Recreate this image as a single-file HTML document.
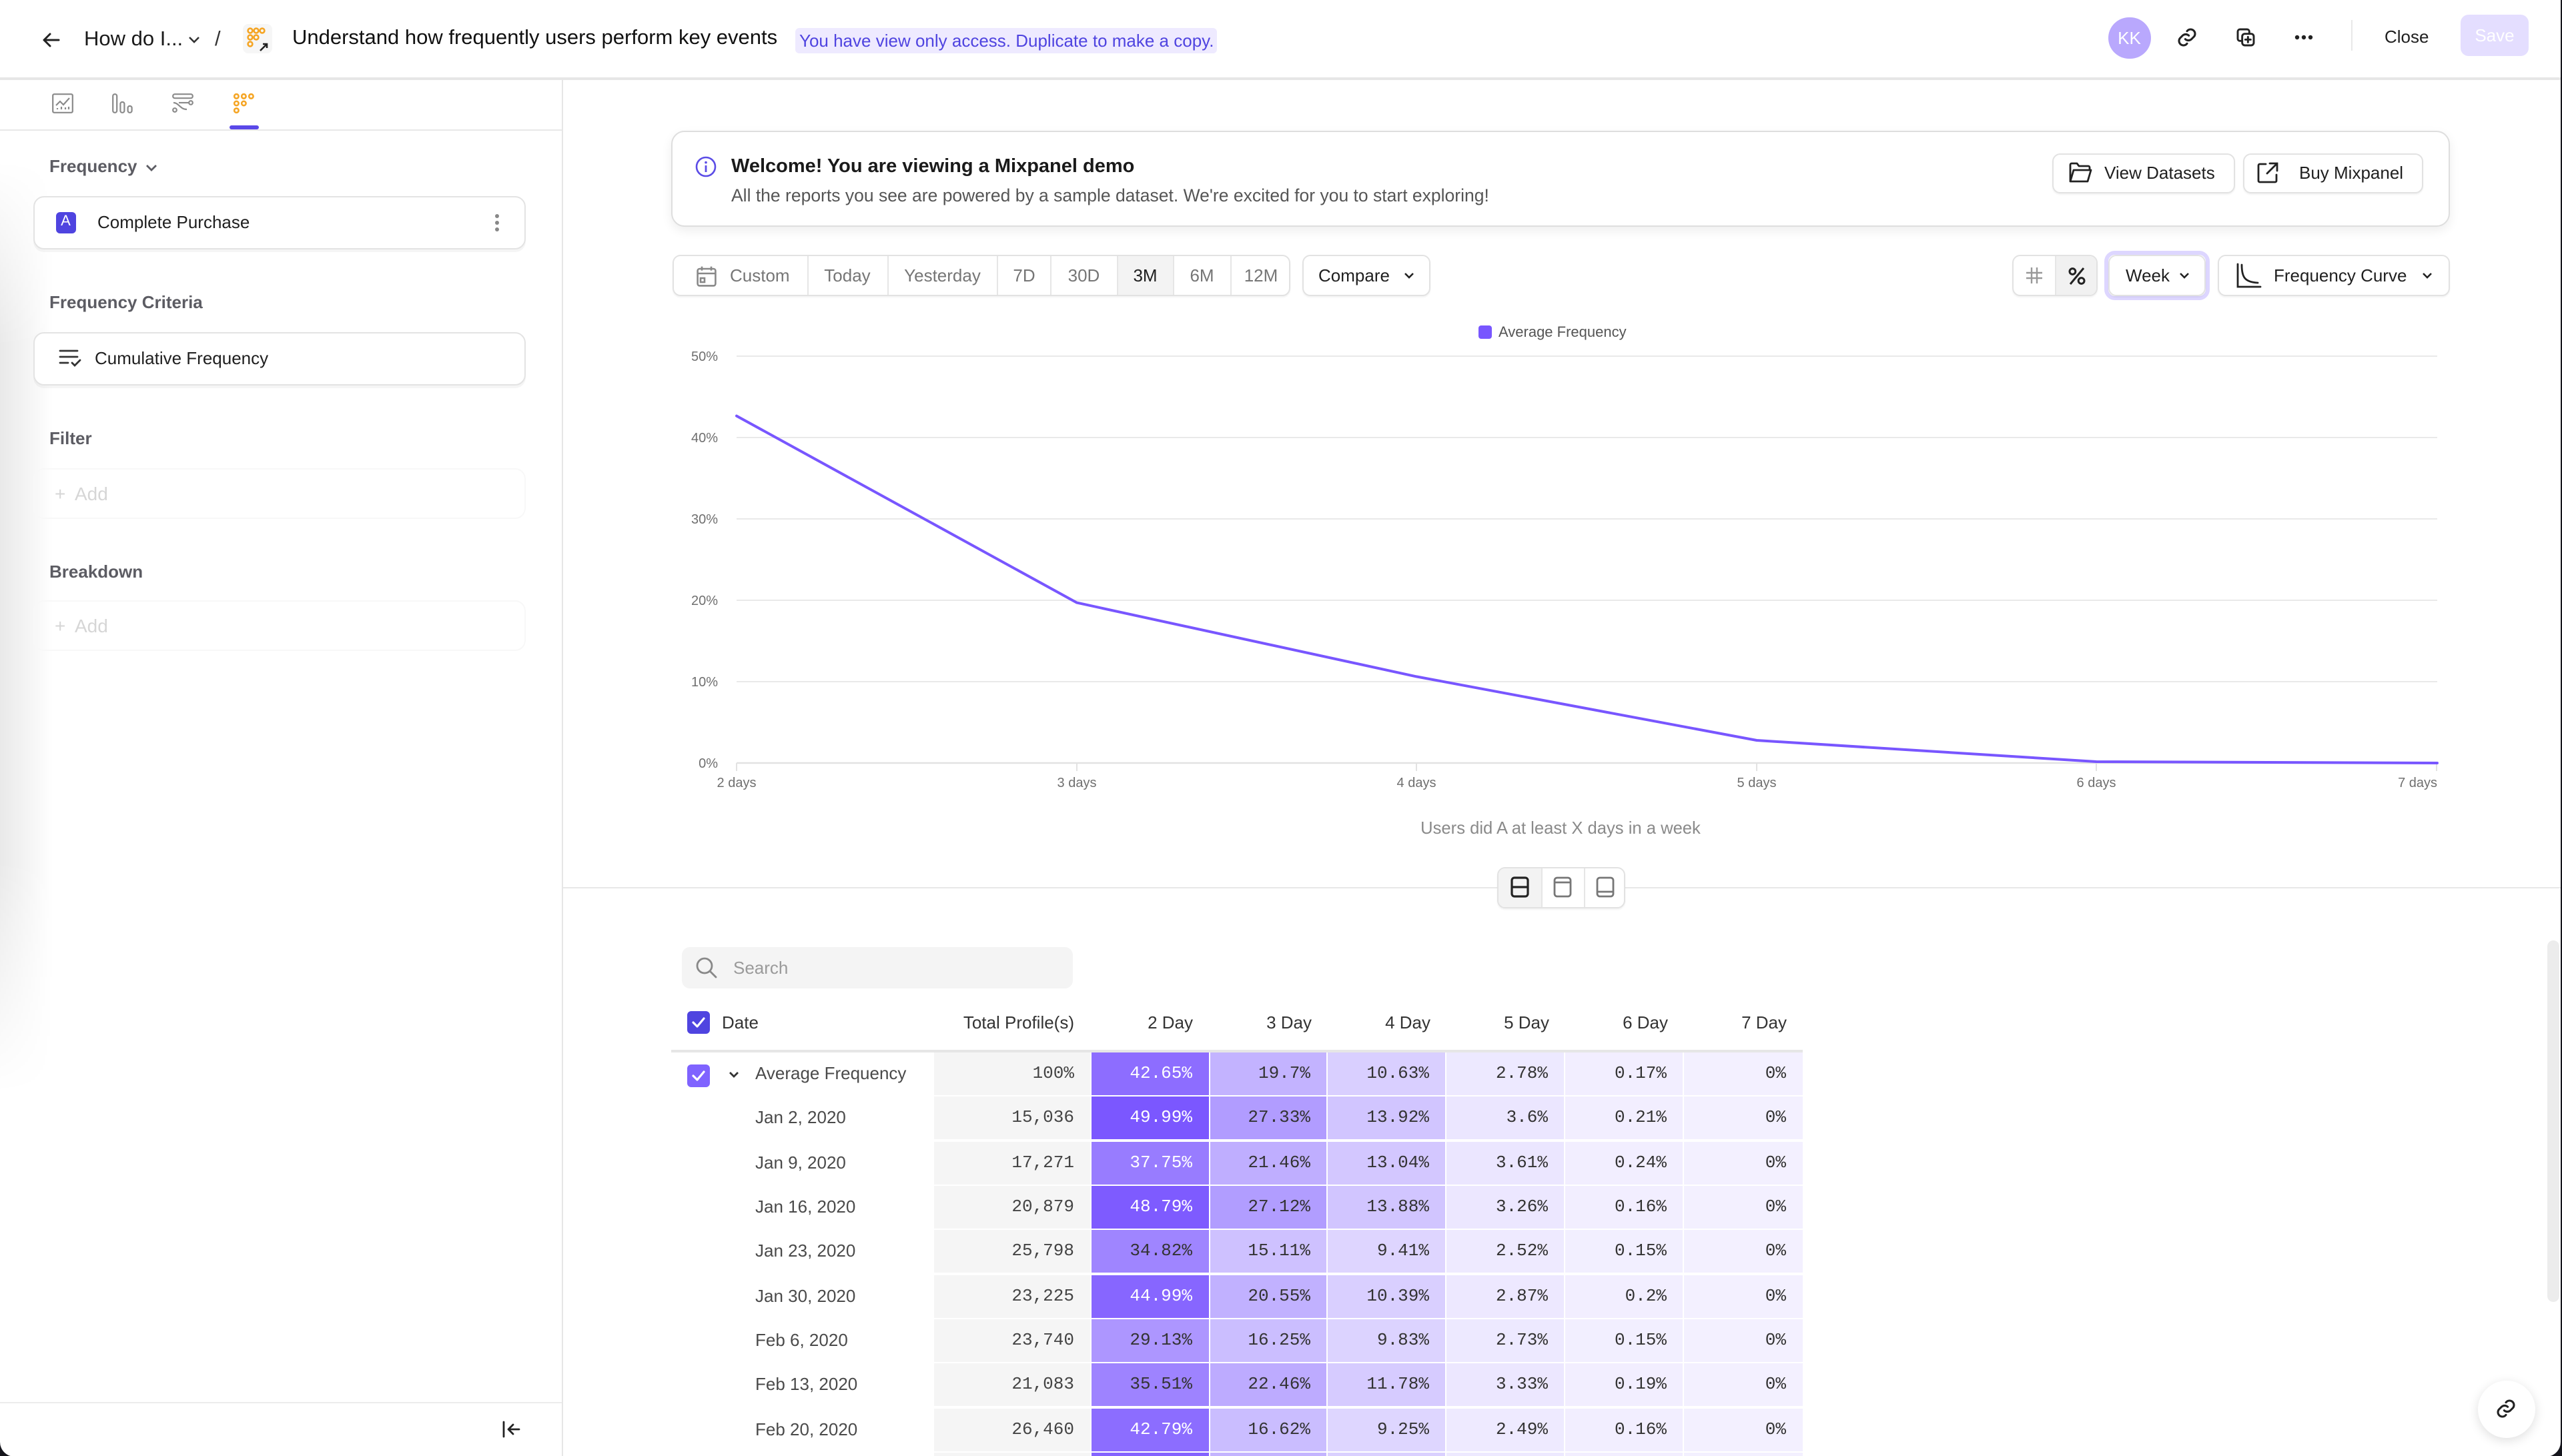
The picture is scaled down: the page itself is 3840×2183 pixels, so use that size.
<!DOCTYPE html>
<html><head><meta charset="utf-8"><title>Frequency report</title>
<style>
html,body{margin:0;padding:0}
body{width:3840px;height:2183px;overflow:hidden;position:relative;background:#15151c}
.page{position:absolute;left:0;top:0;width:1918.5px;height:1091.5px;background:#fff;transform:scale(2);transform-origin:0 0;border-radius:0 0 11px 11px;overflow:hidden;font-family:"Liberation Sans",Arial,sans-serif;color:#1f1f1f}
.a{position:absolute;white-space:nowrap}
.btn{position:absolute;box-sizing:border-box;border:1px solid #e2e2e2;border-radius:6px;background:#fff;box-shadow:0 1px 1px rgba(0,0,0,.05)}
.lbl{position:absolute;left:37px;font-size:13px;font-weight:bold;color:#5c5c63;line-height:16px;white-space:nowrap}
.card{position:absolute;left:25px;width:369px;height:40px;box-sizing:border-box;border:1px solid #e3e3e3;border-radius:8px;background:#fff;box-shadow:0 2px 0 rgba(0,0,0,.04)}
.addrow{position:absolute;left:25px;width:369px;height:38px;box-sizing:border-box;border:1px solid #f8f8f8;border-radius:8px}
.addrow span{position:absolute;top:0;line-height:36px;color:#d6d6d6;font-size:14px}
.seg{position:absolute;top:0;height:29px;line-height:29px;text-align:center;font-size:13px;color:#767676;border-left:1px solid #e6e6e6;box-sizing:border-box}
.row{position:absolute;left:0;width:1400px;height:32px}
.c{position:absolute;top:0;height:32px;line-height:32px;text-align:right;padding-right:12px;box-sizing:border-box;font-family:"Liberation Mono",monospace;font-size:13px;color:#333}
.c0{left:700px;width:117px;background:#f5f5f5;color:#444}
.c1{left:818px;width:87.5px}
.c2{left:906.5px;width:87.5px}
.c3{left:995px;width:88px}
.c4{left:1084px;width:88px}
.c5{left:1173px;width:88px}
.c6{left:1262px;width:88.5px}
.d{position:absolute;left:566px;top:0;line-height:32px;font-size:13px;color:#4a4a4a;white-space:nowrap}
.w{color:#fff}
.th{position:absolute;top:755px;width:100px;height:24px;line-height:24px;font-size:13px;color:#333;text-align:right;white-space:nowrap}
</style></head>
<body>
<div class="page">

<!-- ===== TOP BAR ===== -->
<div class="a" style="left:0;top:58px;width:1920px;height:1.5px;background:#e6e6e6"></div>
<svg class="a" style="left:31px;top:23px" width="14" height="14" viewBox="0 0 14 14"><path d="M13 7H2M6.5 2.5L2 7l4.5 4.5" fill="none" stroke="#222" stroke-width="1.5" stroke-linecap="round" stroke-linejoin="round"/></svg>
<div class="a" style="left:63px;top:20px;font-size:15.5px;line-height:20px;color:#1a1a1a">How do I...</div>
<svg class="a" style="left:141px;top:27px" width="9" height="6" viewBox="0 0 9 6"><path d="M1 1l3.5 3.5L8 1" fill="none" stroke="#333" stroke-width="1.3"/></svg>
<div class="a" style="left:161px;top:20px;font-size:15.5px;line-height:20px;color:#333">/</div>
<svg class="a" style="left:182px;top:18px" width="22" height="22" viewBox="0 0 22 22">
<rect width="22" height="22" rx="4" fill="#f6f6f6"/>
<g fill="none" stroke="#f5a524" stroke-width="1.3">
<circle cx="5.5" cy="5" r="1.7"/><circle cx="10" cy="5" r="1.7"/><circle cx="14.5" cy="5" r="1.7"/>
<circle cx="5.5" cy="10" r="1.7"/><circle cx="10" cy="10" r="1.7"/>
<circle cx="5.5" cy="15" r="1.7"/></g>
<path d="M13 20l5-5M15 15h3v3" stroke="#222" stroke-width="1.3" fill="none"/>
</svg>
<div class="a" style="left:219px;top:19px;font-size:15.5px;line-height:20px;color:#111">Understand how frequently users perform key events</div>
<div class="a" style="left:596px;top:20.5px;width:316px;height:19px;background:#eeeaff;border-radius:3px"></div>
<div class="a" style="left:599px;top:20.5px;font-size:13px;line-height:19px;color:#4f44e0">You have view only access. Duplicate to make a copy.</div>

<div class="a" style="left:1580px;top:12.5px;width:31.5px;height:31.5px;border-radius:50%;background:#b9a8fd;color:#fff;font-size:13px;line-height:31.5px;text-align:center">KK</div>
<svg class="a" style="left:1631px;top:20px" width="16" height="16" viewBox="0 0 24 24"><path d="M10 14a5 5 0 0 0 7 0l3-3a5 5 0 0 0-7-7l-1 1M14 10a5 5 0 0 0-7 0l-3 3a5 5 0 0 0 7 7l1-1" fill="none" stroke="#222" stroke-width="2.3" stroke-linecap="round"/></svg>
<svg class="a" style="left:1675px;top:20px" width="16" height="16" viewBox="0 0 24 24"><g fill="none" stroke="#222" stroke-width="2.2" stroke-linecap="round"><rect x="8" y="8" width="13" height="13" rx="3"/><path d="M16 8V5.5A2.5 2.5 0 0 0 13.5 3h-8A2.5 2.5 0 0 0 3 5.5v8A2.5 2.5 0 0 0 5.5 16H8M14.5 11.5v6M11.5 14.5h6"/></g></svg>
<svg class="a" style="left:1719px;top:25px" width="15" height="6" viewBox="0 0 15 6"><circle cx="2.5" cy="3" r="1.6" fill="#222"/><circle cx="7.5" cy="3" r="1.6" fill="#222"/><circle cx="12.5" cy="3" r="1.6" fill="#222"/></svg>
<div class="a" style="left:1762px;top:15px;width:1px;height:23px;background:#e8e8e8"></div>
<div class="a" style="left:1787px;top:18px;font-size:13px;line-height:20px;color:#1f1f1f">Close</div>
<div class="a" style="left:1844px;top:11px;width:51px;height:31px;border-radius:6px;background:#e4deff;color:#fff;font-size:13px;line-height:31px;text-align:center">Save</div>

<!-- ===== LEFT PANEL ===== -->
<div class="a" style="left:421px;top:59px;width:1px;height:1040px;background:#e6e6e6"></div>
<div class="a" style="left:0;top:120px;width:40px;height:700px;background:linear-gradient(to right,rgba(0,0,0,.085),rgba(0,0,0,0));-webkit-mask-image:linear-gradient(to bottom,transparent,#000 20%,#000 75%,transparent)"></div>
<div class="a" style="left:0;top:96.5px;width:421px;height:1px;background:#e8e8e8"></div>
<!-- tab icons -->
<svg class="a" style="left:39px;top:70px" width="16" height="15" viewBox="0 0 16 15"><g fill="none" stroke="#8a8a8a" stroke-width="1.1"><rect x="0.6" y="0.6" width="14.8" height="13.8" rx="1"/><path d="M3 9l3-3 2.5 2.5L13 3.5"/><path d="M4 12v-1M7 12v-2M10 12v-1.5M12.5 12v-2"/></g></svg>
<svg class="a" style="left:84px;top:70px" width="16" height="15" viewBox="0 0 16 15"><g fill="none" stroke="#8a8a8a" stroke-width="1.1"><rect x="0.6" y="0.6" width="3" height="13.8" rx="1.4"/><rect x="6.2" y="6.5" width="3" height="7.9" rx="1.4"/><rect x="11.8" y="9.5" width="3" height="4.9" rx="1.4"/></g></svg>
<svg class="a" style="left:129px;top:70px" width="16" height="15" viewBox="0 0 16 15"><g fill="none" stroke="#8a8a8a" stroke-width="1.1"><rect x="0.6" y="0.6" width="14.8" height="3" rx="1.4"/><path d="M1 7c4 0 5 5 10 5"/><path d="M5 7h8"/><circle cx="2" cy="12.5" r="1.4"/><circle cx="14" cy="7" r="1.4"/></g></svg>
<svg class="a" style="left:175px;top:70px" width="16" height="15" viewBox="0 0 16 15"><g fill="none" stroke="#f5a524" stroke-width="1.3"><circle cx="2.2" cy="2.2" r="1.6"/><circle cx="7.7" cy="2.2" r="1.6"/><circle cx="13.2" cy="2.2" r="1.6"/><circle cx="2.2" cy="7.5" r="1.6"/><circle cx="7.7" cy="7.5" r="1.6"/><circle cx="2.2" cy="12.8" r="1.6"/></g></svg>
<div class="a" style="left:172px;top:94px;width:21.5px;height:2.5px;border-radius:2px;background:#5a48e8"></div>

<div class="lbl" style="top:117px">Frequency</div>
<svg class="a" style="left:109px;top:122.5px" width="9" height="6" viewBox="0 0 9 6"><path d="M1 1l3.5 3.5L8 1" fill="none" stroke="#5c5c63" stroke-width="1.4"/></svg>
<div class="card" style="top:147px">
  <div class="a" style="left:15.5px;top:11px;width:15.5px;height:15.5px;border-radius:3px;background:#4f44e0;color:#fff;font-size:11px;line-height:15.5px;text-align:center">A</div>
  <div class="a" style="left:47px;top:0;line-height:38px;font-size:13px;color:#1f1f1f">Complete Purchase</div>
  <svg class="a" style="left:344px;top:12px" width="5" height="14" viewBox="0 0 5 14"><circle cx="2.5" cy="2" r="1.5" fill="#888"/><circle cx="2.5" cy="7" r="1.5" fill="#888"/><circle cx="2.5" cy="12" r="1.5" fill="#888"/></svg>
</div>
<div class="lbl" style="top:219px">Frequency Criteria</div>
<div class="card" style="top:249px">
  <svg class="a" style="left:18px;top:11px" width="17" height="15" viewBox="0 0 17 15"><g fill="none" stroke="#333" stroke-width="1.4" stroke-linecap="round"><path d="M1 2h13M1 6.5h13M1 11h6M10 11l2 2 4-4"/></g></svg>
  <div class="a" style="left:45px;top:0;line-height:38px;font-size:13px;color:#1f1f1f">Cumulative Frequency</div>
</div>
<div class="lbl" style="top:320.5px">Filter</div>
<div class="addrow" style="top:351px"><span style="left:15px">+</span><span style="left:30px">Add</span></div>
<div class="lbl" style="top:420.5px">Breakdown</div>
<div class="addrow" style="top:450px"><span style="left:15px">+</span><span style="left:30px">Add</span></div>

<div class="a" style="left:0;top:1051px;width:421px;height:1px;background:#ececec"></div>
<svg class="a" style="left:376px;top:1065px" width="14" height="13" viewBox="0 0 14 13"><g fill="none" stroke="#222" stroke-width="1.4" stroke-linecap="round" stroke-linejoin="round"><path d="M1.5 1v11M13 6.5H5M8.5 3L5 6.5 8.5 10"/></g></svg>

<!-- ===== BANNER ===== -->
<div class="a" style="left:503px;top:98px;width:1333px;height:72px;box-sizing:border-box;border:1px solid #dedede;border-radius:10px;background:#fff;box-shadow:0 3px 8px rgba(0,0,0,.07)"></div>
<svg class="a" style="left:521px;top:117px" width="16" height="16" viewBox="0 0 16 16"><circle cx="8" cy="8" r="7" fill="none" stroke="#5b4ce6" stroke-width="1.3"/><circle cx="8" cy="4.8" r="0.9" fill="#5b4ce6"/><path d="M8 7v5" stroke="#5b4ce6" stroke-width="1.4"/></svg>
<div class="a" style="left:548px;top:116px;font-size:14.5px;font-weight:bold;line-height:18px;color:#1a1a1a">Welcome! You are viewing a Mixpanel demo</div>
<div class="a" style="left:548px;top:138.5px;font-size:13.25px;line-height:16px;color:#555">All the reports you see are powered by a sample dataset. We're excited for you to start exploring!</div>
<div class="btn" style="left:1537.5px;top:115px;width:137.5px;height:30px"></div>
<svg class="a" style="left:1550px;top:121px" width="18" height="17" viewBox="0 0 18 17"><path d="M1.5 15V2.5A1 1 0 0 1 2.5 1.5h4l1.5 2h7a1 1 0 0 1 1 1V6M1.5 15l2.5-8.5h13L14.5 15z" fill="none" stroke="#222" stroke-width="1.4" stroke-linejoin="round"/></svg>
<div class="a" style="left:1577px;top:115px;line-height:30px;font-size:13px;color:#1f1f1f">View Datasets</div>
<div class="btn" style="left:1681px;top:115px;width:134.5px;height:30px"></div>
<svg class="a" style="left:1691px;top:121px" width="17" height="17" viewBox="0 0 17 17"><g fill="none" stroke="#222" stroke-width="1.4" stroke-linecap="round"><path d="M7 2H2.5a1 1 0 0 0-1 1v11.5a1 1 0 0 0 1 1H14a1 1 0 0 0 1-1V10"/><path d="M10 1.5h5.5V7M15.5 1.5L8 9"/></g></svg>
<div class="a" style="left:1723px;top:115px;line-height:30px;font-size:13px;color:#1f1f1f">Buy Mixpanel</div>

<!-- ===== TOOLBAR ===== -->
<div class="btn" style="left:503.5px;top:191px;width:463px;height:31px;overflow:hidden">
  <div class="seg" style="left:0;width:100px;border-left:none;text-align:left;padding-left:42.5px">Custom</div>
  <svg class="a" style="left:17px;top:7px" width="15" height="16" viewBox="0 0 15 16"><g fill="none" stroke="#888" stroke-width="1.3"><rect x="0.8" y="2.5" width="13.4" height="12.7" rx="1.5"/><path d="M0.8 6h13.4M4 0.8v3M11 0.8v3"/><rect x="3" y="9.5" width="3" height="3"/></g></svg>
  <div class="seg" style="left:100px;width:60px">Today</div>
  <div class="seg" style="left:160px;width:82.5px">Yesterday</div>
  <div class="seg" style="left:242.5px;width:40px">7D</div>
  <div class="seg" style="left:282.5px;width:49.5px">30D</div>
  <div class="seg" style="left:332px;width:42.5px;background:#f3f3f3;color:#1f1f1f">3M</div>
  <div class="seg" style="left:374.5px;width:42.5px">6M</div>
  <div class="seg" style="left:417px;width:46px">12M</div>
</div>
<div class="btn" style="left:976px;top:191px;width:95.5px;height:31px"></div>
<div class="a" style="left:988px;top:191px;line-height:31px;font-size:13px;color:#1f1f1f">Compare</div>
<svg class="a" style="left:1052px;top:204px" width="8" height="6" viewBox="0 0 8 6"><path d="M1 1l3 3 3-3" fill="none" stroke="#222" stroke-width="1.3"/></svg>

<div class="btn" style="left:1507.5px;top:191px;width:64px;height:31px;overflow:hidden">
  <div class="a" style="left:31.5px;top:0;width:32px;height:29px;background:#f1f1f1;border-left:1px solid #e6e6e6"></div>
  <svg class="a" style="left:9px;top:8px" width="13" height="13" viewBox="0 0 13 13"><g stroke="#999" stroke-width="1.2"><path d="M4.5 0.5v12M8.5 0.5v12M0.5 4.5h12M0.5 8.5h12"/></g></svg>
  <svg class="a" style="left:41px;top:7.5px" width="13" height="14" viewBox="0 0 13 14"><g fill="none" stroke="#222" stroke-width="1.5"><path d="M11.5 1L1.5 13"/><circle cx="3.2" cy="3.5" r="2.2"/><circle cx="9.8" cy="10.5" r="2.2"/></g></svg>
</div>
<div class="a" style="left:1577px;top:188px;width:79px;height:37px;box-sizing:border-box;border:3px solid #ddd6ff;border-radius:8px"></div>
<div class="btn" style="left:1580px;top:191px;width:73px;height:31px"></div>
<div class="a" style="left:1593px;top:191px;line-height:31px;font-size:13px;color:#1f1f1f">Week</div>
<svg class="a" style="left:1633px;top:204px" width="8" height="6" viewBox="0 0 8 6"><path d="M1 1l3 3 3-3" fill="none" stroke="#222" stroke-width="1.3"/></svg>
<div class="btn" style="left:1662px;top:191px;width:173.5px;height:31px"></div>
<svg class="a" style="left:1676px;top:197px" width="19" height="19" viewBox="0 0 19 19"><g fill="none" stroke="#222" stroke-width="1.4" stroke-linecap="round"><path d="M1 1v17h17"/><path d="M4 1.5c0 9 2 13 12 13.5"/></g></svg>
<div class="a" style="left:1704px;top:191px;line-height:31px;font-size:13px;color:#1f1f1f">Frequency Curve</div>
<svg class="a" style="left:1815px;top:204px" width="8" height="6" viewBox="0 0 8 6"><path d="M1 1l3 3 3-3" fill="none" stroke="#222" stroke-width="1.3"/></svg>

<!-- ===== CHART ===== -->
<svg class="a" style="left:0;top:0" width="1920" height="700" viewBox="0 0 1920 700" font-family="Liberation Sans, Arial, sans-serif">
  <rect x="1108" y="244" width="10" height="10" rx="2" fill="#7856ff"/>
  <text x="1123" y="252.5" font-size="11" fill="#555">Average Frequency</text>
  <g stroke="#e9e9e9" stroke-width="1">
    <line x1="552" y1="267" x2="1826.5" y2="267"/>
    <line x1="552" y1="328" x2="1826.5" y2="328"/>
    <line x1="552" y1="389" x2="1826.5" y2="389"/>
    <line x1="552" y1="450" x2="1826.5" y2="450"/>
    <line x1="552" y1="511" x2="1826.5" y2="511"/>
  </g>
  <line x1="552" y1="572" x2="1826.5" y2="572" stroke="#e2e2e2" stroke-width="1.2"/>
  <g stroke="#e2e2e2" stroke-width="1">
    <line x1="552" y1="572" x2="552" y2="578"/>
    <line x1="807" y1="572" x2="807" y2="578"/>
    <line x1="1061.5" y1="572" x2="1061.5" y2="578"/>
    <line x1="1316.5" y1="572" x2="1316.5" y2="578"/>
    <line x1="1571" y1="572" x2="1571" y2="578"/>
    <line x1="1826" y1="572" x2="1826" y2="578"/>
  </g>
  <g font-size="10" fill="#6f6f6f" text-anchor="end">
    <text x="538" y="270.5">50%</text>
    <text x="538" y="331.5">40%</text>
    <text x="538" y="392.5">30%</text>
    <text x="538" y="453.5">20%</text>
    <text x="538" y="514.5">10%</text>
    <text x="538" y="575.5">0%</text>
  </g>
  <g font-size="10" fill="#6f6f6f" text-anchor="middle">
    <text x="552" y="590">2 days</text>
    <text x="807" y="590">3 days</text>
    <text x="1061.5" y="590">4 days</text>
    <text x="1316.5" y="590">5 days</text>
    <text x="1571" y="590">6 days</text>
    <text x="1826.5" y="590" text-anchor="end">7 days</text>
  </g>
  <polyline points="552,311.8 807,451.8 1061.5,507.2 1316.5,555 1571,571 1826.5,572" fill="none" stroke="#7856ff" stroke-width="2" stroke-linejoin="round" stroke-linecap="round"/>
  <text x="1169.5" y="625" font-size="12.8" fill="#8a8a8a" text-anchor="middle">Users did A at least X days in a week</text>
</svg>

<!-- divider + layout toggle -->
<div class="a" style="left:422px;top:664.5px;width:1500px;height:1.5px;background:#e8e8e8"></div>
<div class="btn" style="left:1121.5px;top:649.5px;width:96px;height:31px;overflow:hidden">
  <div class="a" style="left:0;top:0;width:32px;height:29px;background:#f3f3f3"></div>
  <div class="a" style="left:32px;top:0;width:1px;height:29px;background:#e6e6e6"></div>
  <div class="a" style="left:64px;top:0;width:1px;height:29px;background:#e6e6e6"></div>
  <svg class="a" style="left:9px;top:6.5px" width="14" height="16" viewBox="0 0 14 16"><g fill="none" stroke="#222" stroke-width="1.6"><rect x="1" y="1" width="12" height="14" rx="2"/><path d="M1 8h12"/></g></svg>
  <svg class="a" style="left:41px;top:6.5px" width="14" height="16" viewBox="0 0 14 16"><g fill="none" stroke="#777" stroke-width="1.4"><rect x="1" y="1" width="12" height="14" rx="2"/><path d="M1 4.5h12"/></g></svg>
  <svg class="a" style="left:73px;top:6.5px" width="14" height="16" viewBox="0 0 14 16"><g fill="none" stroke="#777" stroke-width="1.4"><rect x="1" y="1" width="12" height="14" rx="2"/><path d="M1 11.5h12"/></g></svg>
</div>

<!-- ===== TABLE ===== -->
<div class="a" style="left:511px;top:710px;width:293px;height:31px;border-radius:6px;background:#f4f4f4"></div>
<svg class="a" style="left:521px;top:717px" width="17" height="17" viewBox="0 0 17 17"><g fill="none" stroke="#888" stroke-width="1.4" stroke-linecap="round"><circle cx="7" cy="7" r="5.5"/><path d="M11 11l4.5 4.5"/></g></svg>
<div class="a" style="left:549.5px;top:710px;line-height:31px;font-size:13px;color:#9a9a9a">Search</div>

<div class="a" style="left:515px;top:758px;width:17px;height:17px;border-radius:3px;background:#4f44e0"></div>
<svg class="a" style="left:515px;top:758px" width="17" height="17" viewBox="0 0 17 17"><path d="M4.5 8.5l3 3 5-6" fill="none" stroke="#fff" stroke-width="1.6" stroke-linecap="round" stroke-linejoin="round"/></svg>
<div class="a" style="left:541px;top:755px;line-height:24px;font-size:13px;color:#333">Date</div>
<div class="th" style="left:705px">Total Profile(s)</div>
<div class="th" style="left:794px">2 Day</div>
<div class="th" style="left:883px">3 Day</div>
<div class="th" style="left:972px">4 Day</div>
<div class="th" style="left:1061px">5 Day</div>
<div class="th" style="left:1150px">6 Day</div>
<div class="th" style="left:1239px">7 Day</div>
<div class="a" style="left:503px;top:786.5px;width:848px;height:2px;background:#e6e6e6"></div>

<div class="row" style="top:789px">
  <div class="a" style="left:515px;top:8.5px;width:17px;height:17px;border-radius:3px;background:#7f63ff"></div>
  <svg class="a" style="left:515px;top:8.5px" width="17" height="17" viewBox="0 0 17 17"><path d="M4.5 8.5l3 3 5-6" fill="none" stroke="#fff" stroke-width="1.6" stroke-linecap="round" stroke-linejoin="round"/></svg>
  <svg class="a" style="left:546px;top:14px" width="8" height="6" viewBox="0 0 8 6"><path d="M1 1l3 3 3-3" fill="none" stroke="#333" stroke-width="1.4"/></svg>
  <div class="d">Average Frequency</div>
  <div class="c c0">100%</div>
  <div class="c c1 w" style="background:rgb(141,109,255)">42.65%</div>
  <div class="c c2" style="background:rgb(195,179,255)">19.7%</div>
  <div class="c c3" style="background:rgb(217,207,255)">10.63%</div>
  <div class="c c4" style="background:rgb(237,233,255)">2.78%</div>
  <div class="c c5" style="background:rgb(242,238,255)">0.17%</div>
  <div class="c c6" style="background:rgb(243,240,255)">0%</div>
</div>
<div class="row" style="top:822.35px">
  <div class="d">Jan 2, 2020</div>
  <div class="c c0">15,036</div>
  <div class="c c1 w" style="background:rgb(123,87,255)">49.99%</div>
  <div class="c c2" style="background:rgb(177,156,255)">27.33%</div>
  <div class="c c3" style="background:rgb(209,197,255)">13.92%</div>
  <div class="c c4" style="background:rgb(235,230,255)">3.6%</div>
  <div class="c c5" style="background:rgb(242,238,255)">0.21%</div>
  <div class="c c6" style="background:rgb(243,240,255)">0%</div>
</div>
<div class="row" style="top:855.7px">
  <div class="d">Jan 9, 2020</div>
  <div class="c c0">17,271</div>
  <div class="c c1 w" style="background:rgb(152,124,255)">37.75%</div>
  <div class="c c2" style="background:rgb(191,174,255)">21.46%</div>
  <div class="c c3" style="background:rgb(211,199,255)">13.04%</div>
  <div class="c c4" style="background:rgb(235,230,255)">3.61%</div>
  <div class="c c5" style="background:rgb(242,238,255)">0.24%</div>
  <div class="c c6" style="background:rgb(243,240,255)">0%</div>
</div>
<div class="row" style="top:889.05px">
  <div class="d">Jan 16, 2020</div>
  <div class="c c0">20,879</div>
  <div class="c c1 w" style="background:rgb(126,91,255)">48.79%</div>
  <div class="c c2" style="background:rgb(177,157,255)">27.12%</div>
  <div class="c c3" style="background:rgb(209,197,255)">13.88%</div>
  <div class="c c4" style="background:rgb(236,231,255)">3.26%</div>
  <div class="c c5" style="background:rgb(242,238,255)">0.16%</div>
  <div class="c c6" style="background:rgb(243,240,255)">0%</div>
</div>
<div class="row" style="top:922.4px">
  <div class="d">Jan 23, 2020</div>
  <div class="c c0">25,798</div>
  <div class="c c1" style="background:rgb(159,133,255)">34.82%</div>
  <div class="c c2" style="background:rgb(206,193,255)">15.11%</div>
  <div class="c c3" style="background:rgb(222,213,255)">9.41%</div>
  <div class="c c4" style="background:rgb(238,234,255)">2.52%</div>
  <div class="c c5" style="background:rgb(242,239,255)">0.15%</div>
  <div class="c c6" style="background:rgb(243,240,255)">0%</div>
</div>
<div class="row" style="top:955.75px">
  <div class="d">Jan 30, 2020</div>
  <div class="c c0">23,225</div>
  <div class="c c1 w" style="background:rgb(135,102,255)">44.99%</div>
  <div class="c c2" style="background:rgb(193,177,255)">20.55%</div>
  <div class="c c3" style="background:rgb(217,207,255)">10.39%</div>
  <div class="c c4" style="background:rgb(237,232,255)">2.87%</div>
  <div class="c c5" style="background:rgb(242,238,255)">0.2%</div>
  <div class="c c6" style="background:rgb(243,240,255)">0%</div>
</div>
<div class="row" style="top:989.1px">
  <div class="d">Feb 6, 2020</div>
  <div class="c c0">23,740</div>
  <div class="c c1" style="background:rgb(173,150,255)">29.13%</div>
  <div class="c c2" style="background:rgb(203,190,255)">16.25%</div>
  <div class="c c3" style="background:rgb(220,211,255)">9.83%</div>
  <div class="c c4" style="background:rgb(237,233,255)">2.73%</div>
  <div class="c c5" style="background:rgb(242,239,255)">0.15%</div>
  <div class="c c6" style="background:rgb(243,240,255)">0%</div>
</div>
<div class="row" style="top:1022.45px">
  <div class="d">Feb 13, 2020</div>
  <div class="c c0">21,083</div>
  <div class="c c1" style="background:rgb(158,131,255)">35.51%</div>
  <div class="c c2" style="background:rgb(189,171,255)">22.46%</div>
  <div class="c c3" style="background:rgb(214,203,255)">11.78%</div>
  <div class="c c4" style="background:rgb(236,231,255)">3.33%</div>
  <div class="c c5" style="background:rgb(242,238,255)">0.19%</div>
  <div class="c c6" style="background:rgb(243,240,255)">0%</div>
</div>
<div class="row" style="top:1055.8px">
  <div class="d">Feb 20, 2020</div>
  <div class="c c0">26,460</div>
  <div class="c c1 w" style="background:rgb(140,109,255)">42.79%</div>
  <div class="c c2" style="background:rgb(202,189,255)">16.62%</div>
  <div class="c c3" style="background:rgb(222,214,255)">9.25%</div>
  <div class="c c4" style="background:rgb(238,234,255)">2.49%</div>
  <div class="c c5" style="background:rgb(242,238,255)">0.16%</div>
  <div class="c c6" style="background:rgb(243,240,255)">0%</div>
</div>
<div class="row" style="top:1089.15px">
  <div class="c c0"></div>
  <div class="c c1" style="background:rgb(132,99,255)"></div>
  <div class="c c2" style="background:rgb(196,180,255)"></div>
  <div class="c c3" style="background:rgb(218,208,255)"></div>
  <div class="c c4" style="background:rgb(237,233,255)"></div>
  <div class="c c5" style="background:rgb(242,238,255)"></div>
  <div class="c c6" style="background:rgb(243,240,255)"></div>
</div>

<!-- scrollbar + floating link -->
<div class="a" style="left:1909px;top:705px;width:9px;height:271px;border-radius:5px;background:#ececec"></div>
<div class="a" style="left:1856.5px;top:1034.5px;width:43px;height:43px;border-radius:50%;background:#fff;box-shadow:0 2px 8px rgba(0,0,0,.13)"></div>
<svg class="a" style="left:1870px;top:1048px" width="16" height="16" viewBox="0 0 24 24"><path d="M10 14a5 5 0 0 0 7 0l3-3a5 5 0 0 0-7-7l-1 1M14 10a5 5 0 0 0-7 0l-3 3a5 5 0 0 0 7 7l1-1" fill="none" stroke="#222" stroke-width="2.3" stroke-linecap="round"/></svg>

</div>
</body></html>
